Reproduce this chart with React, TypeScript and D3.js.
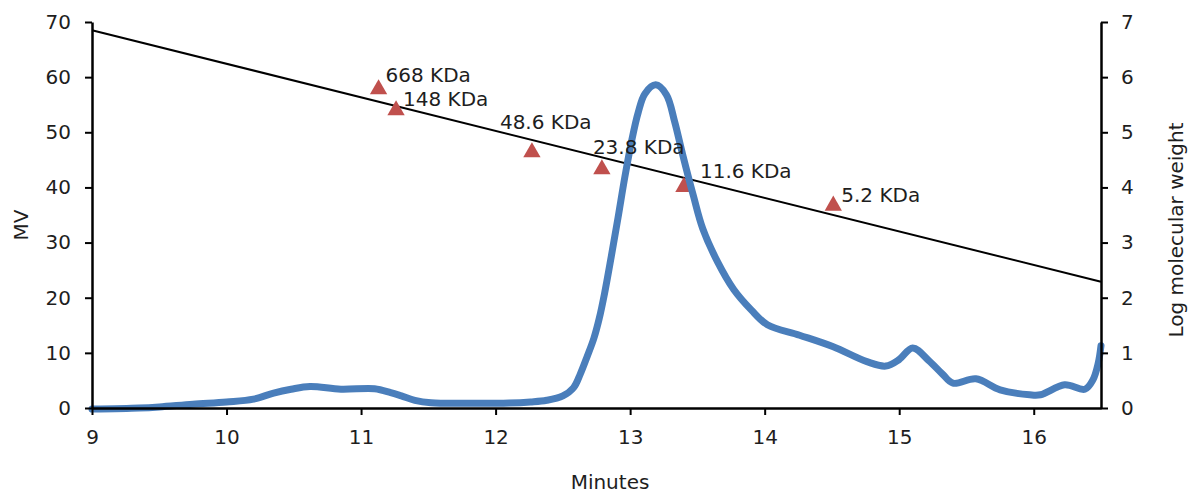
import React, { useEffect, useRef } from 'react';
import * as d3 from 'd3';

// elution trace: [minutes, mV]
const traceMinutes = [
  9.0, 9.35, 9.5, 9.75, 10.0, 10.2, 10.35, 10.48, 10.62, 10.85, 11.1, 11.22, 11.3, 11.4, 11.52,
  11.8, 12.1, 12.26, 12.38, 12.5, 12.58, 12.63, 12.68, 12.73, 12.77, 12.81, 12.86, 12.91, 12.96,
  13.01, 13.06, 13.11, 13.19, 13.27, 13.33, 13.39, 13.47, 13.54, 13.65, 13.77, 13.9, 14.02, 14.26,
  14.51, 14.76, 14.9, 15.0, 15.1, 15.22, 15.32, 15.4, 15.57, 15.75, 15.97, 16.05, 16.23, 16.38,
  16.44, 16.48, 16.5,
];
const traceMV = [
  -0.2, 0, 0.2, 0.7, 1.1, 1.6, 2.7, 3.4, 3.9, 3.4, 3.5, 2.8, 2.2, 1.4, 0.95,
  0.85, 0.9, 1.1, 1.4, 2.2, 3.7, 6.2, 9.3, 12.6, 16.2, 20.8, 27.5, 34.5, 41.8,
  48.3, 53.6, 57.0, 58.6, 56.8, 52.0, 46.0, 38.5, 32.5, 26.5, 21.5, 17.8, 15.1, 13.2,
  11.1, 8.4, 7.6, 8.8, 10.9, 8.6, 6.2, 4.5, 5.3, 3.3, 2.4, 2.4, 4.2, 3.4,
  5.1, 8.2, 11.3,
];

// molecular weight standards
const standardNames = ['668 KDa', '148 KDa', '48.6 KDa', '23.8 KDa', '11.6 KDa', '5.2 KDa'];
const standardMinutes = [11.13, 11.26, 12.27, 12.79, 13.4, 14.51];
const standardLogMW = [5.78, 5.4, 4.64, 4.33, 4.01, 3.67];
// label offsets from marker (px)
const labelDx = [7, 7, -32, -9, 16, 8];
const labelDy = [-7, -4, -23, -15, -9, -4];

// calibration line end points [minutes, log MW]
const calibMinutes = [9, 16.5];
const calibLogMW = [6.85, 2.29];

const minuteTicks = [9, 10, 11, 12, 13, 14, 15, 16];
const mvTicks = [0, 10, 20, 30, 40, 50, 60, 70];
const logTicks = [0, 1, 2, 3, 4, 5, 6, 7];

const W = 1192;
const H = 497;
const FONT = 'DejaVu Sans, sans-serif';
const TEXT = '#1e1e1e';

export default function App() {
  const ref = useRef<SVGSVGElement>(null);

  useEffect(() => {
    draw();
  }, []);

  function draw() {
    const svg = d3.select(ref.current);
    svg.selectAll('*').remove();

    const x = d3.scaleLinear().domain([9, 16.5]).range([92, 1101]);
    const y = d3.scaleLinear().domain([0, 70]).range([408, 22]);
    const y2 = d3.scaleLinear().domain([0, 7]).range([408, 22]);

    // calibration line
    const calib = calibMinutes.map((m, i) => [m, calibLogMW[i]] as [number, number]);
    svg
      .append('path')
      .attr('d', d3.line<[number, number]>().x((d) => x(d[0])).y((d) => y2(d[1]))(calib))
      .attr('fill', 'none')
      .attr('stroke', '#000')
      .attr('stroke-width', 2);

    // standards
    const std = standardNames.map((n, i) => ({
      name: n,
      m: standardMinutes[i],
      v: standardLogMW[i],
      dx: labelDx[i],
      dy: labelDy[i],
    }));
    svg
      .selectAll('.tri')
      .data(std)
      .enter()
      .append('path')
      .attr('class', 'tri')
      .attr('d', d3.symbol().type(d3.symbolTriangle).size(130)())
      .attr('transform', (d) => `translate(${x(d.m)},${y2(d.v)})`)
      .attr('fill', '#c0504d');

    // trace
    const trace = traceMinutes.map((m, i) => [m, traceMV[i]] as [number, number]);
    svg
      .append('path')
      .attr(
        'd',
        d3
          .line<[number, number]>()
          .x((d) => x(d[0]))
          .y((d) => y(d[1]))
          .curve(d3.curveCatmullRom.alpha(0.5))(trace)
      )
      .attr('fill', 'none')
      .attr('stroke', '#4a7ebb')
      .attr('stroke-width', 7)
      .attr('stroke-linecap', 'round')
      .attr('stroke-linejoin', 'round');

    svg
      .selectAll('.lbl')
      .data(std)
      .enter()
      .append('text')
      .attr('class', 'lbl')
      .attr('x', (d) => x(d.m) + d.dx)
      .attr('y', (d) => y2(d.v) + d.dy)
      .attr('font-family', FONT)
      .attr('font-size', 20)
      .attr('fill', TEXT)
      .text((d) => d.name);

    // axes
    const styleAxis = (g: any) => {
      g.select('.domain').attr('stroke', '#000').attr('stroke-width', 2.5);
      g.selectAll('.tick line').attr('stroke', '#000').attr('stroke-width', 2);
      g.selectAll('.tick text').attr('fill', TEXT).attr('font-family', FONT).attr('font-size', 20);
    };

    svg
      .append('g')
      .attr('transform', 'translate(0,408)')
      .call(
        d3
          .axisBottom(x)
          .tickValues(minuteTicks)
          .tickSize(7)
          .tickSizeOuter(0)
          .tickPadding(15)
          .tickFormat(d3.format('d'))
      )
      .call(styleAxis);

    svg
      .append('g')
      .attr('transform', 'translate(92,0)')
      .call(
        d3.axisLeft(y).tickValues(mvTicks).tickSize(7).tickSizeOuter(0).tickPadding(14).tickFormat(d3.format('d'))
      )
      .call(styleAxis);

    svg
      .append('g')
      .attr('transform', 'translate(1101,0)')
      .call(
        d3.axisRight(y2).tickValues(logTicks).tickSize(7).tickSizeOuter(0).tickPadding(13).tickFormat(d3.format('d'))
      )
      .call(styleAxis);

    // titles
    svg
      .append('text')
      .attr('transform', 'translate(28,225) rotate(-90)')
      .attr('text-anchor', 'middle')
      .attr('font-family', FONT)
      .attr('font-size', 20)
      .attr('fill', TEXT)
      .text('MV');

    svg
      .append('text')
      .attr('x', 610)
      .attr('y', 489)
      .attr('text-anchor', 'middle')
      .attr('font-family', FONT)
      .attr('font-size', 20)
      .attr('fill', TEXT)
      .text('Minutes');

    svg
      .append('text')
      .attr('transform', 'translate(1183,230) rotate(-90)')
      .attr('text-anchor', 'middle')
      .attr('font-family', FONT)
      .attr('font-size', 20)
      .attr('fill', TEXT)
      .text('Log molecular weight');
  }

  return (
    <svg
      ref={ref}
      width={W}
      height={H}
      style={{ position: 'absolute', left: 0, top: 0, background: '#fff' }}
    />
  );
}
